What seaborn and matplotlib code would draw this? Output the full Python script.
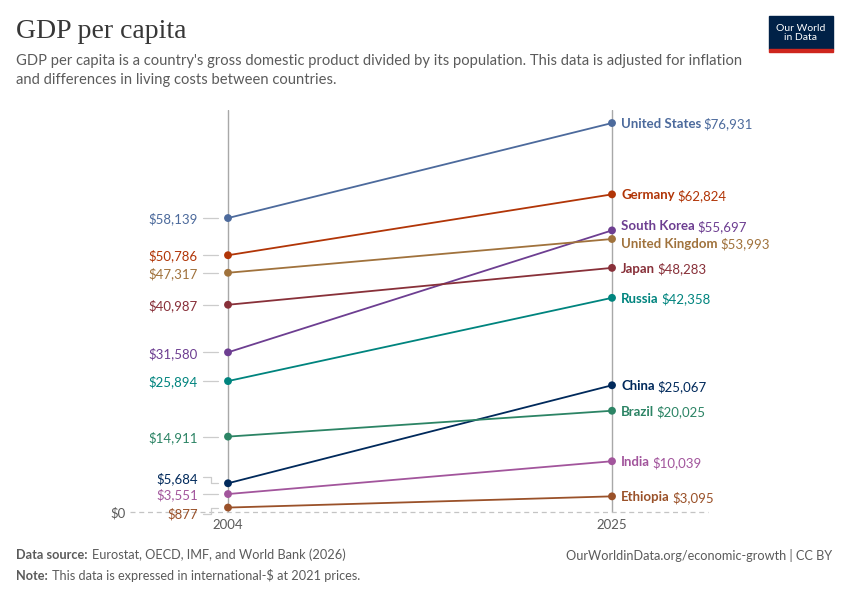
import matplotlib.pyplot as plt
import matplotlib.patches as mpatches
import seaborn as sns
import pandas as pd

# data
years = [2004, 2025]
countries = ['United States', 'Germany', 'South Korea', 'United Kingdom', 'Japan',
             'Russia', 'China', 'Brazil', 'India', 'Ethiopia']
gdp_2004 = [58139, 50786, 31580, 47317, 40987, 25894, 5684, 14911, 3551, 877]
gdp_2025 = [76931, 62824, 55697, 53993, 48283, 42358, 25067, 20025, 10039, 3095]
colors = ['#4C6A9C', '#B13507', '#6D3E91', '#A0723C', '#883039',
          '#00847E', '#00295B', '#2C8465', '#A2559C', '#9A5129']

df = pd.DataFrame({
    'country': countries * 2,
    'year': [years[0]] * len(countries) + [years[1]] * len(countries),
    'gdp': gdp_2004 + gdp_2025,
})
palette = dict(zip(countries, colors))

sns.set_theme(style='white')
plt.rcParams['font.family'] = ['Lato', 'DejaVu Sans']

W, H = 850, 600
fig = plt.figure(figsize=(W / 100, H / 100), dpi=100)
ax = fig.add_axes([130 / W, 88 / H, 578 / W, 402 / H])

ax.axvline(2004, color='#a8a8a8', lw=1, zorder=0)
ax.axvline(2025, color='#a8a8a8', lw=1, zorder=0)
ax.axhline(0, color='#c4c4c4', lw=0.9, ls=(0, (4, 3)), zorder=0, clip_on=False)

sns.lineplot(data=df, x='year', y='gdp', hue='country', palette=palette,
             linewidth=1.3, legend=False, ax=ax)
sns.scatterplot(data=df, x='year', y='gdp', hue='country', palette=palette,
                s=32, edgecolor='none', legend=False, ax=ax, zorder=5, clip_on=False)

ax.set_xlim(1998.64, 2030.25)
ax.set_ylim(0, 79509)
ax.set_xticks(years)
ax.set_xticklabels([str(y) for y in years])
ax.set_yticks([0])
ax.set_yticklabels(['$0'])
ax.tick_params(length=0, labelsize=9.5, labelcolor='#5b5b5b')
ax.tick_params(axis='x', pad=5)
ax.tick_params(axis='y', pad=3)
ax.set_xlabel('')
ax.set_ylabel('')
sns.despine(ax=ax, left=True, bottom=True)

inv = ax.transData.inverted()


def px_to_data(x, y, dx, dy):
    bx, by = ax.transData.transform((x, y))
    return inv.transform((bx + dx, by - dy))


# left side labels (pixel nudges for crowded ones)
left_nudge = {'China': -6, 'Ethiopia': 6}
for c, v, col in zip(countries, gdp_2004, colors):
    dy = left_nudge.get(c, 0)
    ax.annotate(f'${v:,}', xy=(2004, v), xytext=(-30 * 0.72, -dy * 0.72),
                textcoords='offset points', ha='right', va='center_baseline',
                fontsize=9.5, color=col)
    if dy == 0:
        pts = [(-25, 0), (-10, 0)]
    else:
        pts = [(-25, dy), (-17, dy), (-17, 0), (-10, 0)]
    xy = [px_to_data(2004, v, a, b) for a, b in pts]
    ax.plot([p[0] for p in xy], [p[1] for p in xy], color='#cccccc', lw=0.9,
            clip_on=False, zorder=1)

# right side labels
right_nudge = {'South Korea': -5, 'United Kingdom': 4}
renderer = fig.canvas.get_renderer()
for c, v, col in zip(countries, gdp_2025, colors):
    dy = right_nudge.get(c, 0)
    t = ax.annotate(c, xy=(2025, v), xytext=(9 * 0.72, -dy * 0.72),
                    textcoords='offset points', ha='left', va='center_baseline',
                    fontsize=9.5, color=col, fontweight='bold')
    w = t.get_window_extent(renderer).width
    ax.annotate(f'${v:,}', xy=(2025, v), xytext=((9 + w + 2.5) * 0.72, -dy * 0.72),
                textcoords='offset points', ha='left', va='center_baseline',
                fontsize=9.5, color=col)

# header
fig.text(16 / W, 1 - 31 / H, 'GDP per capita', family=['Liberation Serif', 'DejaVu Serif'],
         fontsize=20, color='#373737', va='center')
fig.text(16 / W, 1 - 61 / H,
         "GDP per capita is a country's gross domestic product divided by its population. "
         "This data is adjusted for inflation", fontsize=10.65, color='#5b5b5b', va='center')
fig.text(16 / W, 1 - 80 / H, 'and differences in living costs between countries.',
         fontsize=10.65, color='#5b5b5b', va='center')

# logo
fig.patches.append(mpatches.Rectangle((769 / W, 1 - 49 / H), 64 / W, 33 / H,
                                      transform=fig.transFigure, color='#002147'))
fig.patches.append(mpatches.Rectangle((769 / W, 1 - 52 / H), 64 / W, 3 / H,
                                      transform=fig.transFigure, color='#CE261E'))
fig.text(801 / W, 1 - 33 / H, 'Our World\nin Data', color='white', fontsize=7.5,
         ha='center', va='center', linespacing=1.1)

# footer
fig.text(16 / W, 1 - 555 / H, 'Data source:', fontsize=9.2, color='#5b5b5b',
         fontweight='bold', va='center')
fig.text(92 / W, 1 - 555 / H, 'Eurostat, OECD, IMF, and World Bank (2026)', fontsize=9.2,
         color='#5b5b5b', va='center')
fig.text(16 / W, 1 - 576 / H, 'Note:', fontsize=9.2, color='#5b5b5b',
         fontweight='bold', va='center')
fig.text(52 / W, 1 - 576 / H, "This data is expressed in international-$ at 2021 prices.",
         fontsize=9.2, color='#5b5b5b', va='center')
fig.text(832 / W, 1 - 555 / H, 'OurWorldinData.org/economic-growth | CC BY', fontsize=9.2,
         color='#5b5b5b', ha='right', va='center')

fig.savefig('out.png', dpi=100)
